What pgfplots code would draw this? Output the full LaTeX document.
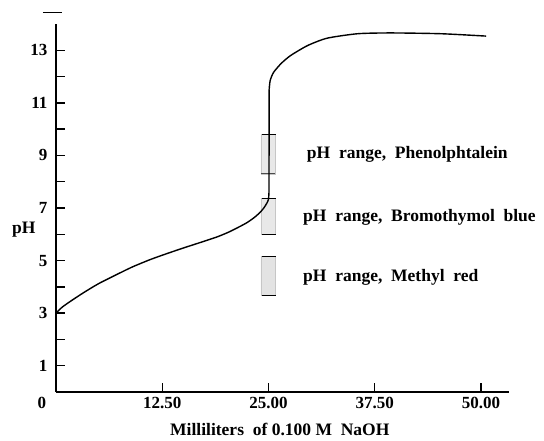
\documentclass[border=0pt]{standalone}
\usepackage{fontspec}
\setmainfont{Liberation Serif}
\usepackage{pgfplots}
\pgfplotsset{compat=1.18}

\begin{document}
\begin{tikzpicture}[font=\fontsize{17.5}{20}\selectfont\bfseries]
\begin{axis}[
    scale only axis,
    width=453pt, height=368pt,
    xmin=0, xmax=53.3,
    ymin=0, ymax=14,
    axis x line=bottom, axis y line=left,
    axis line style={-, line width=1.6pt},
    tick align=inside,
    major tick length=9pt,
    tick style={line width=1.3pt, black},
    xtick={12.5,25,37.5,50},
    xticklabels={12.50,25.00,37.50,50.00},
    ytick={1,2,...,13},
    yticklabels={1,{},3,{},5,{},7,{},9,{},11,{},13},
    /pgf/number format/assume math mode=true,
    ticklabel style={font=\fontsize{17}{20}\selectfont\bfseries},
    xticklabel style={yshift=-2pt},
    yticklabel style={xshift=-5pt},
    xlabel={Milliliters\ \ of 0.100 M\ \ NaOH},
    every axis x label/.style={at={(rel axis cs:0.494,0)}, anchor=base, yshift=-43pt},
    ylabel={pH},
    every axis y label/.style={at={(rel axis cs:0,0.44)}, anchor=east, xshift=-17pt},
    clip=false,
]
% indicator ranges (shaded boxes)
\addplot[draw=gray!45, fill=gray!18, line width=0.4pt] coordinates {(24.1,8.3) (25.75,8.3) (25.75,9.8) (24.1,9.8) (24.1,8.3)};
\addplot[draw=gray!45, fill=gray!18, line width=0.4pt] coordinates {(24.1,6.0) (25.75,6.0) (25.75,7.37) (24.1,7.37) (24.1,6.0)};
\addplot[draw=gray!45, fill=gray!22, line width=0.4pt] coordinates {(24.1,3.67) (25.75,3.67) (25.75,5.16) (24.1,5.16) (24.1,3.67)};
% range end marks
\addplot[black, line width=1.3pt] coordinates {(24.2,9.8) (25.9,9.8)};
\addplot[black!70, line width=0.6pt] coordinates {(24.1,8.32) (25.8,8.32)};
\addplot[black, line width=1.3pt] coordinates {(24.2,7.37) (25.9,7.37)};
\addplot[black, line width=1.3pt] coordinates {(24.2,6.0) (25.9,6.0)};
\addplot[black, line width=1.3pt] coordinates {(24.2,5.16) (25.9,5.16)};
\addplot[black, line width=1.3pt] coordinates {(24.2,3.67) (25.9,3.67)};
% titration curve
\addplot[black, line width=1.4pt, smooth, tension=0.4] coordinates {
    (0,3.0) (0.7,3.22) (1.65,3.44) (3.2,3.77) (5,4.12) (7.15,4.47)
    (9,4.76) (11.1,5.04) (13,5.26) (15.0,5.48) (17,5.69) (18.95,5.90)
    (20.3,6.08) (21.3,6.24) (22.4,6.43) (23.3,6.63) (24.0,6.83)
    (24.45,7.0) (24.8,7.18) (25.0,7.33) (25.06,7.6)
};
\addplot[black, line width=1.4pt] coordinates {(25.06,7.6) (25.08,11.5)};
\addplot[black, line width=1.4pt, smooth, tension=0.4] coordinates {
    (25.08,11.5) (25.2,11.85) (25.6,12.16) (26.5,12.5) (27.6,12.8)
    (29.6,13.18) (31.9,13.46) (35.5,13.63) (39.4,13.66) (45.3,13.63) (50.6,13.54)
};
% labels of the ranges
\node[anchor=west, inner sep=0pt] at (axis cs:29.5,9.05) {pH\ \ range,\ \ Phenolphtalein};
\node[anchor=west, inner sep=0pt] at (axis cs:29.06,6.64) {pH\ \ range,\ \ Bromothymol\ \ blue};
\node[anchor=west, inner sep=0pt] at (axis cs:29.06,4.35) {pH\ \ range,\ \ Methyl\ \ red};
% origin label and the stray mark above the axis
\node[anchor=north, yshift=-2pt, font=\fontsize{17}{20}\selectfont\bfseries] at ([xshift=-14pt]axis cs:0,0) {0};
\draw[line width=1pt] ([xshift=-13pt,yshift=11pt]rel axis cs:0,1) -- ++(19pt,0);
\coordinate (o) at (rel axis cs:0,0);
\coordinate (t) at (rel axis cs:1,1);
\end{axis}
\pgfresetboundingbox
\path[use as bounding box] ([xshift=-56pt,yshift=-48pt]o) rectangle ([xshift=35pt,yshift=24pt]t);
\end{tikzpicture}
\end{document}
